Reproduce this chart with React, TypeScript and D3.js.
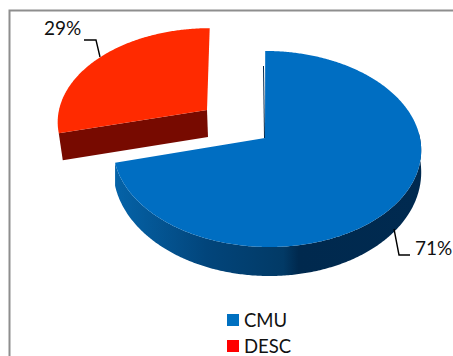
import React from "react";
import * as d3 from "d3";

const categories = ["CMU", "DESC"];
const values = [71, 29];
const labels = ["71%", "29%"];
const colors = ["#006ec2", "#ff2a00"];
const legendColors = ["#0070c0", "#ff0000"];
const wallColors = ["#0563a8", "#02457b", "#023a66", "#00294e", "#002a50"];
const wallStops = [0, 0.3, 0.55, 0.6, 1];
const frameColor = "#8e8e8e";
const font = "Lato, Carlito, 'Open Sans', sans-serif";

const K = -0.112;

type Disc = { cx: number; cy: number; rx: number; ry: number; skew: number };
const blue: Disc = { cx: 267, cy: 138, rx: 153, ry: 96.8, skew: -2 };
const red: Disc = { cx: 207, cy: 110, rx: 148, ry: 91, skew: 3 };

function project(d: Disc, a: number): [number, number] {
  const x = Math.sin(a);
  const y = -Math.cos(a);
  const w = 1 + K * y;
  return [d.cx + (d.rx * x - d.skew * y) / w, d.cy + (d.ry * y) / w];
}

function depthAt(a: number): number {
  const y = -Math.cos(a);
  return 21 + 8 * Math.max(0, y);
}

const line = d3.line();

export default function App() {
  const arcs = d3.pie<number>().sort(null)(values);
  const blueArc = arcs[0];
  const redArc = arcs[1];

  const blueAngles = d3.range(blueArc.startAngle, blueArc.endAngle, 0.01).concat(blueArc.endAngle);
  const blueTop = blueAngles.map((a) => project(blue, a));
  const bluePath = line([[blue.cx - 2, blue.cy], ...blueTop]) + "Z";

  const wallAngles = blueAngles.filter((a) => a > Math.PI * 0.48);
  const wallTop = wallAngles.map((a) => project(blue, a));
  const wallBottom = wallAngles.map((a) => {
    const p = project(blue, a);
    return [p[0], p[1] + depthAt(a)] as [number, number];
  });
  const wallPath = line([...wallTop, ...wallBottom.reverse()]) + "Z";

  const redAngles = d3.range(redArc.startAngle, redArc.endAngle, 0.01).concat(redArc.endAngle);
  const redRim = redAngles.map((a) => project(red, a));
  const redPath = line([[red.cx, red.cy], ...redRim]) + "Z";
  const redLeft = redRim[0];
  const redSide = line([
    redLeft,
    [red.cx, red.cy],
    [red.cx + 1, red.cy + 27],
    [redLeft[0] + 4, redLeft[1] + 27],
  ]) + "Z";

  const x = d3.scaleLinear().domain([0, 1]).range([115, 421]);

  return (
    <svg
      width={453}
      height={356}
      style={{ position: "absolute", left: 0, top: 0, background: "#fff" }}
    >
      <defs>
        <linearGradient id="wall" gradientUnits="userSpaceOnUse" x1={x(0)} x2={x(1)} y1={0} y2={0}>
          {wallColors.map((c, i) => (
            <stop key={i} offset={wallStops[i]} stopColor={c} />
          ))}
        </linearGradient>
      </defs>
      <path d="M9.5 356V10.5H453" fill="none" stroke={frameColor} strokeWidth={2} />

      <path d={redSide} fill="#770a00" />
      <path d={redPath} fill={colors[1]} />

      <path d={wallPath} fill="url(#wall)" />
      <path d="M263 66L264 138L265 138L264 66Z" fill="#00294e" />
      <path d={bluePath} fill={colors[0]} />

      <path d="M84 40H96L100 57" fill="none" stroke="#000" strokeWidth={1.4} />
      <path d="M394 229L399 255H410" fill="none" stroke="#000" strokeWidth={1.4} />
      <text x={44} y={35} fontFamily={font} fontSize={19} fill="#111">{labels[1]}</text>
      <text x={415} y={255} fontFamily={font} fontSize={19} fill="#111">{labels[0]}</text>

      {categories.map((c, i) => (
        <g key={c}>
          <rect x={227} y={314 + i * 26} width={12} height={12} fill={legendColors[i]} />
          <text x={244} y={327 + i * 26} fontFamily={font} fontSize={18.5} fill="#111">{c}</text>
        </g>
      ))}
    </svg>
  );
}
